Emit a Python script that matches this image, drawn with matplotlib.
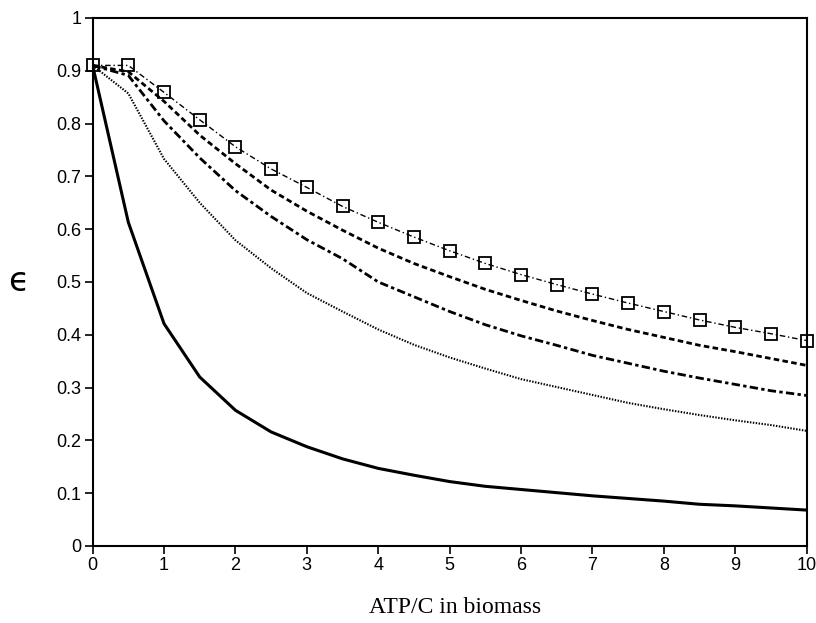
import numpy as np
import matplotlib.pyplot as plt

# ATP/C in biomass
atp_c = [0, 0.5, 1, 1.5, 2, 2.5, 3, 3.5, 4, 4.5, 5, 5.5, 6, 6.5, 7, 7.5, 8, 8.5, 9, 9.5, 10]

eps_squares = [0.910, 0.910, 0.859, 0.807, 0.756, 0.714, 0.679, 0.643, 0.613, 0.585, 0.559,
               0.535, 0.514, 0.495, 0.477, 0.460, 0.444, 0.428, 0.414, 0.402, 0.389]
eps_dash_dense = [0.910, 0.898, 0.842, 0.778, 0.724, 0.674, 0.634, 0.598, 0.564, 0.535, 0.510,
                  0.486, 0.465, 0.445, 0.427, 0.410, 0.395, 0.380, 0.368, 0.355, 0.342]
eps_dash = [0.910, 0.891, 0.805, 0.735, 0.673, 0.624, 0.580, 0.544, 0.500, 0.472, 0.444,
            0.419, 0.398, 0.380, 0.361, 0.346, 0.331, 0.318, 0.306, 0.294, 0.285]
eps_dotted = [0.910, 0.857, 0.733, 0.650, 0.579, 0.526, 0.479, 0.444, 0.410, 0.381, 0.357,
              0.336, 0.316, 0.301, 0.286, 0.271, 0.259, 0.248, 0.238, 0.229, 0.218]
eps_solid = [0.910, 0.613, 0.421, 0.320, 0.257, 0.216, 0.188, 0.165, 0.147, 0.134, 0.122,
             0.113, 0.107, 0.101, 0.095, 0.090, 0.085, 0.079, 0.076, 0.072, 0.068]

xticks = list(range(0, 11))
yticks = [0, 0.1, 0.2, 0.3, 0.4, 0.5, 0.6, 0.7, 0.8, 0.9, 1]
ytick_labels = ["0", "0.1", "0.2", "0.3", "0.4", "0.5", "0.6", "0.7", "0.8", "0.9", "1"]

plt.rcParams["font.family"] = ["Liberation Sans", "DejaVu Sans"]

fig = plt.figure(figsize=(8.16, 6.23), dpi=100)
ax = fig.add_axes([0.1135, 0.1236, 0.875, 0.8477])

ax.plot(atp_c, eps_solid, color="black", lw=2.2, solid_capstyle="butt")
ax.plot(atp_c, eps_dotted, color="black", lw=1.5, dashes=(0.7, 0.7))
ax.plot(atp_c, eps_dash, color="black", lw=2.0, dashes=(3.0, 1.2, 1.2, 1.2))
ax.plot(atp_c, eps_dash_dense, color="black", lw=2.0, dashes=(2.0, 1.2))
ax.plot(atp_c, eps_squares, color="black", lw=1.0, dashes=(4, 2, 1, 2),
        marker="s", markersize=9, markerfacecolor="none", markeredgecolor="black",
        markeredgewidth=1.3, clip_on=False, zorder=5)

ax.set_xlim(0, 10)
ax.set_ylim(0, 1)
ax.set_xticks(xticks)
ax.set_yticks(yticks)
ax.set_yticklabels(ytick_labels)
ax.tick_params(direction="out", length=6, width=1.2, labelsize=13, pad=2, colors="black")

for s in ax.spines.values():
    s.set_linewidth(1.5)

fig.text(0.022, 0.548, "\u03f5", fontsize=24, ha="center", va="center",
         family=["DejaVu Sans"])
fig.text(0.558, 0.016, "ATP/C in biomass", fontsize=17, ha="center", va="baseline",
         family=["Liberation Serif"])

fig.savefig("out.png", dpi=100, facecolor="white")
